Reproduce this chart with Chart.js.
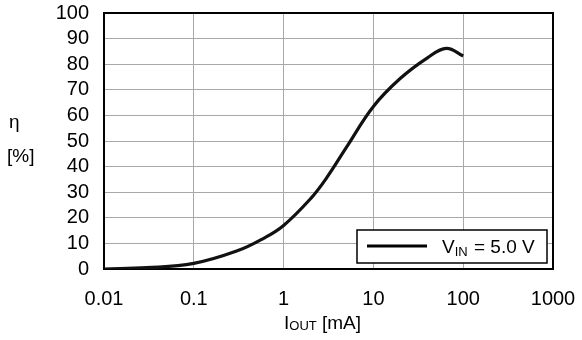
<!DOCTYPE html>
<html><head><meta charset="utf-8">
<script src="https://cdn.jsdelivr.net/npm/chart.js@4/dist/chart.umd.min.js"></script>
<style>html,body{margin:0;padding:0;background:#fff}#wrap{width:582px;height:340px}</style>
</head><body><div id="wrap"><canvas id="c" width="582" height="340"></canvas></div>
<script>
const currents = [0.01,0.03,0.1,0.3,0.6,1,2,3,5,10,20,40,65,100];
const efficiency = [0,0.5,2.2,7.0,12,17,27.5,35.5,47.5,63.5,74.5,82.5,86.2,83.2];
const xTicks = [0.01,0.1,1,10,100,1000];
const xTickLabels = ['0.01','0.1','1','10','100','1000'];
const seriesName = 'V_IN = 5.0 V';

const FONT = 'Liberation Sans, Arial, sans-serif';
const extras = {
  id:'extras',
  beforeDatasetsDraw(chart){
    const {ctx, chartArea:a} = chart;
    ctx.save();
    ctx.strokeStyle='#000'; ctx.lineWidth=2;
    ctx.strokeRect(a.left, a.top, a.right-a.left, a.bottom-a.top);
    ctx.restore();
  },
  afterDraw(chart){
    const {ctx, chartArea:a} = chart;
    ctx.save();
    const bx=357, by=230, bw=190, bh=33;
    ctx.fillStyle='#fff'; ctx.fillRect(bx,by,bw,bh);
    ctx.strokeStyle='#000'; ctx.lineWidth=1.5; ctx.strokeRect(bx,by,bw,bh);
    ctx.lineWidth=3; ctx.beginPath(); ctx.moveTo(367,246); ctx.lineTo(427,246); ctx.stroke();
    ctx.fillStyle='#000'; ctx.textBaseline='alphabetic'; ctx.textAlign='left';
    let x=442; const base=253;
    ctx.font='19px '+FONT; ctx.fillText('V',x,base); x+=ctx.measureText('V').width;
    ctx.font='13px '+FONT; ctx.fillText('IN',x,base+3); x+=ctx.measureText('IN').width+1;
    ctx.font='19px '+FONT; ctx.fillText(' = 5.0 V',x,base);
    ctx.font='19px '+FONT;
    ctx.fillText('η',9,128);
    ctx.fillText('[%]',7,162);
    x=284; const xb=329;
    ctx.fillText('I',x,xb); x+=ctx.measureText('I').width;
    ctx.font='13px '+FONT; ctx.fillText('OUT',x,xb+1); x+=ctx.measureText('OUT').width;
    ctx.font='19px '+FONT; ctx.fillText(' [mA]',x,xb);
    ctx.restore();
  }
};

new Chart(document.getElementById('c'), {
  type:'line',
  data:{datasets:[{label:seriesName, data:currents.map((c,i)=>({x:c,y:efficiency[i]})),
    borderColor:'#111', borderWidth:3.2, pointRadius:0, fill:false, tension:0.4}]},
  options:{
    responsive:false, animation:false, events:[],
    layout:{padding:{top:13,right:29,left:0,bottom:0}},
    plugins:{legend:{display:false}, tooltip:{enabled:false}},
    scales:{
      x:{type:'logarithmic', min:0.01, max:1000,
        afterBuildTicks(s){ s.ticks = xTicks.map(v=>({value:v})); },
        afterFit(s){ s.height=71; s.paddingLeft=0; s.paddingRight=0; },
        ticks:{callback:(v)=>{const i=xTicks.indexOf(v); return i>=0?xTickLabels[i]:'';}, color:'#000', font:{family:FONT,size:20}, padding:18, maxRotation:0, autoSkip:false},
        grid:{color:'#a8a8a8', lineWidth:1, drawTicks:false},
        border:{display:false}
      },
      y:{min:0, max:100,
        afterFit(s){ s.width=104; s.paddingTop=0; s.paddingBottom=0; },
        ticks:{stepSize:10, color:'#000', font:{family:FONT,size:20}, padding:15, autoSkip:false},
        grid:{color:'#a8a8a8', lineWidth:1, drawTicks:false},
        border:{display:false}
      }
    }
  },
  plugins:[extras]
});
</script></body></html>
